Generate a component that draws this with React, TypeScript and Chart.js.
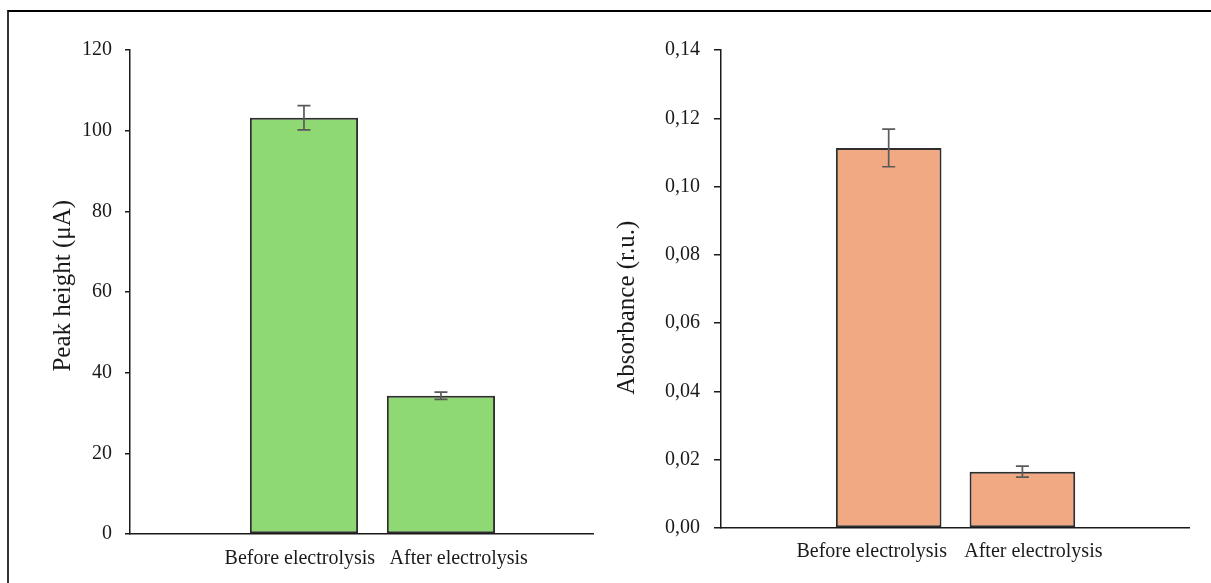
import React, { useEffect, useRef } from 'react';
import { Chart, registerables } from 'chart.js';

Chart.register(...registerables);

// ---- data ----
const categories = ['Before electrolysis', 'After electrolysis'];
const peakHeight = [103.2, 34.3];
const peakHeightErr = [3.0, 0.9];
const absorbance = [0.1113, 0.0165];
const absorbanceErr = [0.0055, 0.0016];

const peakAxis = { min: 0, max: 120, step: 20 };
const absAxis = { min: 0, max: 0.14, step: 0.02 };

const FONT = "'Liberation Serif', 'Times New Roman', serif";
const TEXT = '#1a1a1a';
const LINE = '#1a1a1a';

const errorBarPlugin = {
  id: 'errorBars',
  afterDatasetsDraw(chart: any, _args: any, opts: any) {
    const errs: number[] = opts.errors;
    if (!errs) return;
    const meta = chart.getDatasetMeta(0);
    const ys = chart.scales.y;
    const ctx = chart.ctx;
    ctx.save();
    ctx.strokeStyle = opts.color;
    ctx.lineWidth = opts.width;
    meta.data.forEach((bar: any, i: number) => {
      const v = chart.data.datasets[0].data[i].y;
      const top = ys.getPixelForValue(v + errs[i]);
      const bot = ys.getPixelForValue(v - errs[i]);
      const x = bar.x;
      const c = opts.cap;
      ctx.beginPath();
      ctx.moveTo(x, top);
      ctx.lineTo(x, bot);
      ctx.moveTo(x - c, top);
      ctx.lineTo(x + c, top);
      ctx.moveTo(x - c, bot);
      ctx.lineTo(x + c, bot);
      ctx.stroke();
    });
    ctx.restore();
  },
};

interface PanelCfg {
  values: number[];
  errors: number[];
  axis: { min: number; max: number; step: number };
  fill: string;
  title: string;
  xMin: number;
  xMax: number;
  labelShift: number[];
  yWidth: number;
  xHeight: number;
  padRight: number;
  tickLen: number;
  tickPad: number;
  titlePad: number;
  labelPad: number;
  fmt: (v: number) => string;
}

function makeConfig(p: PanelCfg): any {
  return {
    type: 'bar',
    data: {
      datasets: [
        {
          data: p.values.map((v, i) => ({ x: i + 1, y: v })),
          backgroundColor: p.fill,
          borderColor: '#2e2e2e',
          borderWidth: 2,
          borderSkipped: false,
          barPercentage: 0.79,
          categoryPercentage: 1,
        },
      ],
    },
    options: {
      animation: false,
      responsive: true,
      maintainAspectRatio: false,
      layout: { padding: { top: 50, right: p.padRight, bottom: 0, left: 0 } },
      plugins: {
        legend: { display: false },
        tooltip: { enabled: false },
        errorBars: { errors: p.errors, color: '#5a5a5a', width: 1.7, cap: 6.5 },
      },
      scales: {
        x: {
          type: 'linear',
          min: p.xMin,
          max: p.xMax,
          offset: false,
          grid: { display: false, drawTicks: false },
          border: { display: true, color: LINE, width: 1.5, z: 1 },
          afterBuildTicks: (s: any) => {
            s.ticks = categories.map((_, i) => ({ value: i + 1 + p.labelShift[i] }));
          },
          afterFit: (s: any) => {
            s.height = p.xHeight;
          },
          ticks: {
            autoSkip: false,
            maxRotation: 0,
            minRotation: 0,
            padding: p.labelPad,
            color: TEXT,
            font: { family: FONT, size: 20 },
            callback: (_v: any, i: number) => categories[i],
          },
        },
        y: {
          min: p.axis.min,
          max: p.axis.max,
          grid: {
            display: true,
            drawOnChartArea: false,
            drawTicks: true,
            tickLength: p.tickLen,
            color: LINE,
            lineWidth: 1.5,
          },
          border: { display: true, color: LINE, width: 1.5 },
          afterFit: (s: any) => {
            s.width = p.yWidth;
          },
          ticks: {
            stepSize: p.axis.step,
            padding: p.tickPad,
            color: TEXT,
            font: { family: FONT, size: 20 },
            callback: (v: any) => p.fmt(Number(v)),
          },
          title: {
            display: true,
            text: p.title,
            color: TEXT,
            font: { family: FONT, size: 25 },
            padding: { top: p.titlePad, bottom: 0 },
          },
        },
      },
    },
    plugins: [errorBarPlugin],
  };
}

function Panel({ cfg, left, width }: { cfg: PanelCfg; left: number; width: number }) {
  const ref = useRef<HTMLCanvasElement | null>(null);
  useEffect(() => {
    if (!ref.current) return;
    const chart = new Chart(ref.current, makeConfig(cfg));
    return () => chart.destroy();
  }, []);
  return (
    <div style={{ position: 'absolute', left, top: 0, width, height: 583 }}>
      <canvas ref={ref} />
    </div>
  );
}

const leftCfg: PanelCfg = {
  values: peakHeight,
  errors: peakHeightErr,
  axis: peakAxis,
  fill: '#8fd974',
  title: '\u2002Peak height (μA)',
  xMin: -0.27,
  xMax: 3.11,
  labelShift: [-0.03, 0.13],
  yWidth: 130,
  xHeight: 49,
  padRight: 12,
  tickLen: 5,
  tickPad: 13,
  titlePad: 48,
  labelPad: 13,
  fmt: (v) => String(Math.round(v)),
};

const rightCfg: PanelCfg = {
  values: absorbance,
  errors: absorbanceErr,
  axis: absAxis,
  fill: '#f1a983',
  title: 'Absorbance (r.u.)\u2002\u2002\u2002',
  xMin: -0.254,
  xMax: 3.246,
  labelShift: [-0.127, 0.082],
  yWidth: 116,
  xHeight: 55,
  padRight: 22,
  tickLen: 7,
  tickPad: 14,
  titlePad: 7,
  labelPad: 12,
  fmt: (v) => v.toFixed(2).replace('.', ','),
};

export default function App() {
  return (
    <div
      style={{
        position: 'fixed',
        left: 0,
        top: 0,
        width: 1211,
        height: 583,
        overflow: 'hidden',
        background: '#ffffff',
      }}
    >
      <div
        style={{
          position: 'absolute',
          left: 7,
          top: 10,
          width: 1400,
          height: 800,
          borderTop: '2px solid #000',
          borderLeft: '2px solid #333',
        }}
      />
      <Panel cfg={leftCfg} left={0} width={605} />
      <Panel cfg={rightCfg} left={605} width={606} />
    </div>
  );
}
